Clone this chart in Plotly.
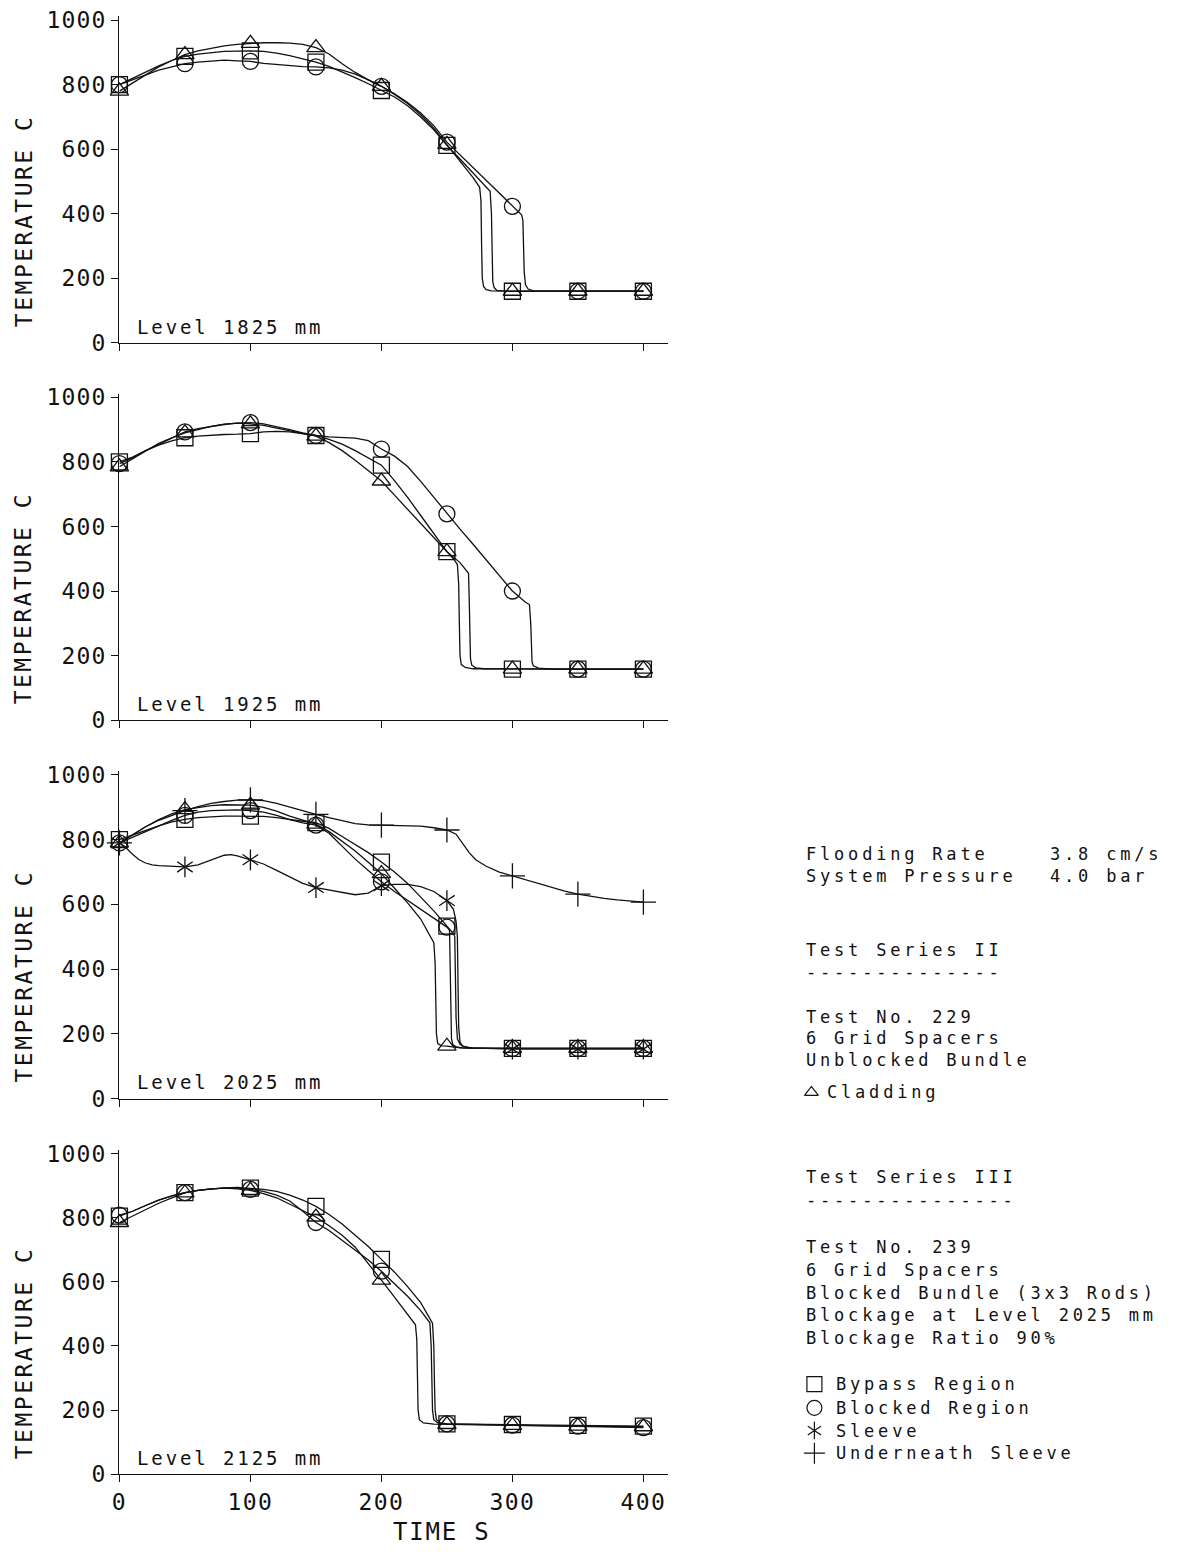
import plotly.graph_objects as go

# canvas the chart is laid out on, and the page inset of the figure inside it
W, H = 1178, 1567
INSET = 8
FIG_W, FIG_H = W - 2 * INSET, H - 2 * INSET
FONT = "DejaVu Sans Mono"
INK = "#111111"


def fx(p):
    """canvas pixel column -> paper x fraction"""
    return (p - INSET) / FIG_W


def fy(p):
    """canvas pixel row -> paper y fraction"""
    return 1 - (p - INSET) / FIG_H


# ---------------- axes ----------------
x_ticks = [0, 100, 200, 300, 400]
y_ticks = [0, 200, 400, 600, 800, 1000]
marker_times = [0, 50, 100, 150, 200, 250, 300, 350, 400]
level_labels = ["Level 1825 mm", "Level 1925 mm", "Level 2025 mm", "Level 2125 mm"]

# ---------------- Level 1825 mm ----------------
t_1825_clad = [0, 10, 20, 30, 40, 50, 60, 70, 80, 90, 100, 110, 120, 130, 140, 150, 160, 170, 180, 190,
               200, 210, 220, 230, 240, 250, 260, 270, 275, 276, 276.5, 277, 278, 280, 284, 290, 300, 350, 400]
T_1825_clad = [780, 805, 830, 855, 875, 893, 905, 913, 920, 925, 928, 930, 930, 929, 925, 915, 895, 865, 838, 815,
               795, 770, 742, 707, 665, 615, 562, 512, 482, 440, 300, 200, 175, 165, 161, 160, 160, 160, 160]

t_1825_byp = [0, 10, 20, 30, 40, 50, 60, 70, 80, 90, 100, 110, 120, 130, 140, 150, 160, 170, 180, 190,
              200, 210, 220, 230, 240, 250, 260, 270, 280, 283, 284, 284.5, 285, 286, 288, 292, 300, 350, 400]
T_1825_byp = [800, 820, 840, 858, 875, 888, 895, 900, 903, 904, 905, 903, 898, 890, 880, 870, 857, 840, 822, 803,
              782, 762, 735, 700, 660, 612, 570, 527, 485, 470, 400, 250, 190, 172, 163, 161, 160, 160, 160]

t_1825_blk = [0, 10, 20, 30, 40, 50, 60, 70, 80, 90, 100, 110, 120, 130, 140, 150, 160, 170, 180, 190,
              200, 210, 220, 230, 240, 250, 260, 270, 280, 290, 300, 307, 308, 308.5, 309, 310, 312, 316, 320, 350, 400]
T_1825_blk = [800, 815, 830, 845, 855, 865, 870, 873, 876, 874, 872, 866, 862, 858, 856, 855, 852, 845, 833, 815,
              795, 772, 745, 712, 673, 622, 582, 543, 503, 463, 423, 397, 380, 300, 220, 180, 167, 161, 160, 160, 160]

# ---------------- Level 1925 mm ----------------
t_1925_clad = [0, 10, 20, 30, 40, 50, 60, 70, 80, 90, 100, 110, 120, 130, 140, 150, 160, 170, 180, 190,
               200, 210, 220, 230, 240, 250, 255, 258, 259, 259.5, 260, 261, 264, 270, 300, 350, 400]
T_1925_clad = [785, 810, 835, 858, 875, 890, 900, 910, 917, 920, 918, 913, 905, 897, 890, 880, 860, 835, 805, 773,
               741, 697, 653, 609, 566, 522, 500, 482, 420, 300, 200, 172, 163, 159, 158, 158, 158]

t_1925_byp = [0, 10, 20, 30, 40, 50, 60, 70, 80, 90, 100, 110, 120, 130, 140, 150, 160, 170, 180, 190,
              200, 210, 220, 230, 240, 250, 260, 265, 266.5, 267, 267.5, 268, 269, 272, 278, 300, 350, 400]
T_1925_byp = [800, 815, 835, 852, 865, 875, 880, 883, 885, 886, 888, 893, 895, 893, 888, 882, 870, 855, 835, 812,
              790, 742, 690, 634, 578, 522, 488, 462, 455, 380, 250, 190, 170, 162, 159, 158, 158, 158]

t_1925_blk = [0, 10, 20, 30, 40, 50, 60, 70, 80, 90, 100, 110, 120, 130, 140, 150, 160, 170, 180, 190,
              200, 210, 220, 230, 240, 250, 260, 270, 280, 290, 300, 310, 313, 314, 314.5, 315, 316, 320, 330, 350, 400]
T_1925_blk = [795, 812, 835, 855, 875, 893, 903, 910, 916, 920, 922, 918, 910, 900, 890, 882, 878, 876, 874, 866,
              840, 818, 786, 740, 690, 639, 592, 545, 497, 448, 400, 365, 358, 300, 220, 180, 168, 161, 158, 158, 158]

# ---------------- Level 2025 mm ----------------
t_2025_clad = [0, 10, 20, 30, 40, 50, 60, 70, 80, 90, 100, 110, 120, 130, 140, 150, 160, 170, 180, 190,
               200, 210, 220, 230, 238, 240, 241, 241.5, 242, 243, 246, 250, 260, 300, 350, 400]
T_2025_clad = [790, 815, 840, 862, 880, 893, 900, 905, 908, 908, 907, 900, 888, 873, 860, 848, 825, 795, 765, 730,
               695, 650, 605, 555, 495, 482, 420, 300, 200, 170, 163, 162, 157, 155, 155, 155]

t_2025_byp = [0, 10, 20, 30, 40, 50, 60, 70, 80, 90, 100, 110, 120, 130, 140, 150, 160, 170, 180, 190,
              200, 210, 220, 230, 240, 250, 255, 256, 256.5, 257, 258, 260, 263, 270, 300, 350, 400]
T_2025_byp = [800, 815, 830, 843, 855, 863, 868, 871, 873, 873, 873, 872, 868, 862, 857, 853, 835, 810, 785, 760,
              731, 700, 665, 623, 580, 533, 510, 500, 400, 250, 185, 168, 160, 156, 155, 155, 155]

t_2025_blk = [0, 10, 20, 30, 40, 50, 60, 70, 80, 90, 100, 110, 120, 130, 140, 150, 160, 170, 180, 190,
              200, 210, 220, 230, 240, 250, 252, 252.5, 253, 253.5, 254.5, 257, 262, 270, 300, 350, 400]
T_2025_blk = [790, 808, 825, 843, 860, 875, 885, 890, 892, 892, 890, 885, 875, 862, 852, 845, 820, 780, 740, 705,
              670, 640, 612, 585, 558, 530, 520, 400, 250, 185, 167, 160, 157, 155, 155, 155, 155]

t_2025_slv = [0, 5, 10, 15, 20, 25, 30, 40, 50, 60, 70, 80, 85, 90, 100, 110, 120, 130, 140, 150, 160, 170, 180,
              190, 200, 210, 220, 230, 240, 250, 255, 257, 258, 258.5, 259, 260, 262, 268, 280, 300, 350, 400]
T_2025_slv = [790, 775, 755, 738, 728, 722, 720, 717, 716, 722, 738, 752, 754, 750, 738, 725, 705, 685, 665, 652,
              645, 636, 630, 635, 658, 662, 662, 655, 640, 612, 585, 548, 500, 350, 220, 175, 162, 157, 155, 153,
              153, 153]

t_2025_und = [0, 10, 20, 30, 40, 50, 60, 70, 80, 90, 100, 110, 120, 130, 140, 150, 160, 170, 180, 190,
              200, 210, 220, 230, 240, 250, 257, 262, 267, 272, 280, 290, 300, 310, 320, 330, 340, 350, 360, 370,
              380, 390, 400]
T_2025_und = [790, 815, 840, 860, 876, 890, 902, 912, 918, 922, 923, 921, 912, 900, 888, 878, 868, 858, 850, 846,
              845, 846, 845, 842, 837, 830, 817, 790, 760, 738, 718, 700, 688, 676, 664, 652, 641, 632, 625, 619,
              614, 610, 607]

# ---------------- Level 2125 mm ----------------
t_2125_clad = [0, 10, 20, 30, 40, 50, 60, 70, 80, 90, 100, 110, 120, 130, 140, 150, 160, 170, 180, 190,
               200, 210, 220, 226, 227, 227.5, 228, 229, 232, 240, 250, 300, 350, 400]
T_2125_clad = [785, 805, 825, 845, 862, 877, 885, 890, 892, 890, 885, 875, 862, 842, 822, 802, 775, 745, 708, 658,
               605, 552, 498, 466, 420, 300, 200, 170, 160, 156, 155, 152, 150, 148]

t_2125_byp = [0, 10, 20, 30, 40, 50, 60, 70, 80, 90, 100, 110, 120, 130, 140, 150, 160, 170, 180, 190,
              200, 210, 220, 230, 239, 240, 240.5, 241, 242, 245, 250, 300, 350, 400]
T_2125_byp = [805, 820, 838, 855, 868, 878, 885, 890, 893, 894, 892, 888, 882, 870, 855, 835, 810, 780, 745, 710,
              670, 630, 585, 535, 471, 400, 280, 200, 170, 160, 157, 155, 152, 150]

t_2125_blk = [0, 10, 20, 30, 40, 50, 60, 70, 80, 90, 100, 110, 120, 130, 140, 150, 160, 170, 180, 190,
              200, 210, 220, 230, 237, 238, 238.5, 239, 240, 243, 250, 300, 350, 400]
T_2125_blk = [808, 820, 838, 855, 868, 878, 885, 890, 892, 892, 888, 882, 870, 852, 820, 785, 760, 730, 700, 668,
              633, 595, 555, 510, 472, 400, 280, 200, 170, 160, 157, 153, 150, 145]

panels = [
    [("clad", t_1825_clad, T_1825_clad), ("byp", t_1825_byp, T_1825_byp), ("blk", t_1825_blk, T_1825_blk)],
    [("clad", t_1925_clad, T_1925_clad), ("byp", t_1925_byp, T_1925_byp), ("blk", t_1925_blk, T_1925_blk)],
    [("und", t_2025_und, T_2025_und), ("slv", t_2025_slv, T_2025_slv), ("clad", t_2025_clad, T_2025_clad),
     ("byp", t_2025_byp, T_2025_byp), ("blk", t_2025_blk, T_2025_blk)],
    [("clad", t_2125_clad, T_2125_clad), ("byp", t_2125_byp, T_2125_byp), ("blk", t_2125_blk, T_2125_blk)],
]

# ---------------- styling ----------------
SYMBOLS = {
    "clad": (["triangle-up-open"], 16),
    "byp": (["square-open"], 16),
    "blk": (["circle-open"], 16),
    "slv": (["y-up-open", "y-down-open"], 13),
    "und": (["cross-thin-open"], 18),
}


def spaced(text, px):
    return f'<span style="letter-spacing:{px}px">{text}</span>'


# canvas geometry of the panels (zero and 1000 C rows) and of the time axis
X0_PX, PX_PER_S, X_END = 120.2, 1.319, 419
Y_TOP = 1012
panel_px = [(346.7, 19.3), (729.3, 402.0), (1113.3, 785.0), (1494.3, 1169.0)]

fig = go.Figure()
layout_axes = {}
annotations = []

for i, (series, (y0, y1000)) in enumerate(zip(panels, panel_px), start=1):
    xa, ya = f"x{i}", f"y{i}"
    for kind, ts, Ts in series:
        fig.add_trace(go.Scatter(x=ts, y=Ts, mode="lines", xaxis=xa, yaxis=ya,
                                 line=dict(color=INK, width=1.3), hoverinfo="skip", cliponaxis=False))
        mt = [t for t in ts if t in marker_times]
        mT = [T for t, T in zip(ts, Ts) if t in marker_times]
        syms, size = SYMBOLS[kind]
        for s in syms:
            fig.add_trace(go.Scatter(x=mt, y=mT, mode="markers", xaxis=xa, yaxis=ya, cliponaxis=False,
                                     marker=dict(symbol=s, size=size, color=INK,
                                                 line=dict(color=INK, width=1.3))))

    scale = (y0 - y1000) / 1000.0
    top_px = y0 - Y_TOP * scale
    ydom = [fy(y0), fy(top_px)]
    xdom = [fx(X0_PX), fx(X0_PX + X_END * PX_PER_S)]
    bottom = i == len(panels)

    layout_axes[f"xaxis{i}" if i > 1 else "xaxis"] = dict(
        domain=xdom, range=[0, X_END], anchor=ya, showgrid=False, zeroline=False,
        showline=True, linecolor=INK, linewidth=1.3, ticks="outside", ticklen=7, tickwidth=1.3,
        tickcolor=INK, tickvals=x_ticks, ticktext=[spaced(str(v), 1.5) for v in x_ticks],
        showticklabels=bottom, tickfont=dict(family=FONT, size=23, color=INK),
    )
    layout_axes[f"yaxis{i}" if i > 1 else "yaxis"] = dict(
        domain=ydom, range=[0, Y_TOP], anchor=xa, showgrid=False, zeroline=False,
        showline=True, linecolor=INK, linewidth=1.3, ticks="outside", ticklen=7, tickwidth=1.3,
        tickcolor=INK, tickvals=y_ticks, ticktext=[spaced(str(v), 1.2) for v in y_ticks],
        tickfont=dict(family=FONT, size=23, color=INK),
    )

    # axis title and level label inside the panel
    annotations.append(dict(text=spaced("TEMPERATURE C", 2.5), x=fx(24), xref="paper", y=380, yref=ya,
                            textangle=-90, showarrow=False, xanchor="center", yanchor="middle",
                            font=dict(family=FONT, size=23, color=INK)))
    annotations.append(dict(text=spaced(level_labels[i - 1], 2.9), x=fx(136), xref="paper", y=50, yref=ya,
                            showarrow=False, xanchor="left", yanchor="middle",
                            font=dict(family=FONT, size=19, color=INK)))

annotations.append(dict(text=spaced("TIME S", 1.8), x=fx(445), y=fy(1553), xref="paper", yref="paper",
                        showarrow=False, xanchor="center", yanchor="middle",
                        font=dict(family=FONT, size=24, color=INK)))

# test description block
info_lines = [
    ("Flooding Rate", 810, 865), ("3.8 cm/s", 1055, 865),
    ("System Pressure", 810, 887), ("4.0 bar", 1055, 887),
    ("Test Series II", 810, 963), ("-" * 14, 810, 985),
    ("Test No. 229", 810, 1030), ("6 Grid Spacers", 810, 1052), ("Unblocked Bundle", 810, 1074),
    ("Cladding", 831, 1107),
    ("Test Series III", 810, 1193), ("-" * 15, 810, 1216),
    ("Test No. 239", 810, 1264), ("6 Grid Spacers", 810, 1287), ("Blocked Bundle (3x3 Rods)", 810, 1310),
    ("Blockage at Level 2025 mm", 810, 1333), ("Blockage Ratio 90%", 810, 1356),
    ("Bypass Region", 840, 1403), ("Blocked Region", 840, 1427),
    ("Sleeve", 840, 1450), ("Underneath Sleeve", 840, 1473),
]
for text, px, py in info_lines:
    annotations.append(dict(text=spaced(text, 3.8), x=fx(px), y=fy(py), xref="paper", yref="paper",
                            showarrow=False, xanchor="left", yanchor="middle",
                            font=dict(family=FONT, size=17, color=INK)))

# key symbols of the description block, drawn on a hidden full-canvas axis pair
key_kinds = ["clad", "byp", "blk", "slv", "und"]
key_col = [817, 820, 820, 820, 820]
key_row = [1107, 1403, 1427, 1450, 1473]
key_size = {"clad": 12, "byp": 15, "blk": 15, "slv": 11, "und": 15}
for kind, cx, cy in zip(key_kinds, key_col, key_row):
    for s in SYMBOLS[kind][0]:
        fig.add_trace(go.Scatter(x=[cx], y=[cy], mode="markers", xaxis="x5", yaxis="y5", cliponaxis=False,
                                 hoverinfo="skip",
                                 marker=dict(symbol=s, size=key_size[kind], color=INK,
                                             line=dict(color=INK, width=1.2))))
layout_axes["xaxis5"] = dict(domain=[0, 1], range=[INSET, INSET + FIG_W], visible=False, anchor="y5")
layout_axes["yaxis5"] = dict(domain=[0, 1], range=[INSET + FIG_H, INSET], visible=False, anchor="x5")

fig.update_layout(
    width=FIG_W, height=FIG_H, margin=dict(l=0, r=0, t=0, b=0),
    paper_bgcolor="white", plot_bgcolor="rgba(0,0,0,0)", showlegend=False,
    annotations=annotations, **layout_axes,
)

fig.write_html("out.html")
